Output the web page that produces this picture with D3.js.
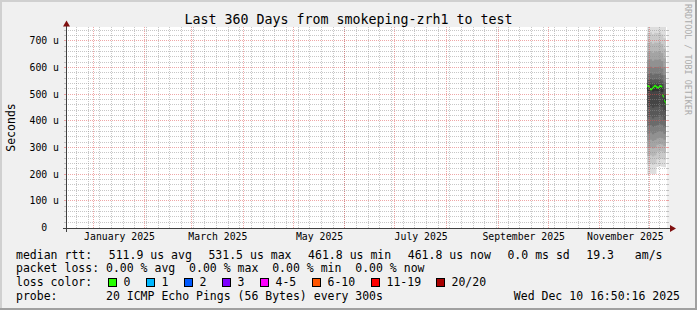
<!DOCTYPE html>
<html>
<head>
<meta charset="utf-8">
<style>
    body { margin: 0; background: #f0f0f0; }
    svg text { font-family: "DejaVu Sans Mono", monospace; white-space: pre; }
</style>
</head>
<body>
<svg id="chart" width="697" height="310"></svg>
<script src="https://cdn.jsdelivr.net/npm/d3@7"></script>
<script>
// median rtt (microseconds), one value per 12h
const medianTimes = [
    "2025-11-29T12:00", "2025-11-30T00:00", "2025-11-30T12:00", "2025-12-01T00:00",
    "2025-12-01T12:00", "2025-12-02T00:00", "2025-12-02T12:00", "2025-12-03T00:00",
    "2025-12-03T12:00", "2025-12-04T00:00", "2025-12-04T12:00", "2025-12-05T00:00",
    "2025-12-05T12:00", "2025-12-06T00:00", "2025-12-06T12:00", "2025-12-07T00:00",
    "2025-12-07T12:00", "2025-12-08T00:00", "2025-12-08T12:00", "2025-12-09T00:00",
    "2025-12-09T12:00", "2025-12-10T00:00", "2025-12-10T12:00"
]
const medianValues = [
    530.2, 531.0, 527.5, 519.3, 517.8, 519.6, 524.4, 526.1, 530.0, 531.5, 529.2, 527.0,
    524.1, 525.3, 528.8, 530.9, 530.1, 527.6, 496.4, 490.8, 476.2, 470.5, 461.8
]

// smoke: 20 sorted ping times (microseconds) per interval
const smokeTimes = [
    "2025-11-29T12:00", "2025-11-30T21:00", "2025-12-02T06:00", "2025-12-03T15:00",
    "2025-12-05T00:00", "2025-12-06T09:00", "2025-12-07T18:00", "2025-12-09T03:00"
]
const smokePings = [
    [198, 236, 268, 298, 326, 352, 380, 412, 452, 512, 532, 542, 555, 575, 600, 628, 658, 692, 728, 810],
    [202, 240, 271, 301, 329, 356, 384, 416, 456, 515, 534, 544, 557, 578, 603, 631, 661, 696, 732, 818],
    [199, 235, 266, 296, 324, 350, 377, 409, 449, 510, 530, 540, 553, 573, 598, 625, 655, 689, 725, 806],
    [201, 238, 270, 300, 328, 354, 382, 414, 454, 513, 533, 543, 556, 577, 602, 630, 660, 694, 730, 814],
    [227, 256, 284, 310, 334, 358, 384, 415, 454, 512, 532, 542, 555, 576, 601, 629, 659, 693, 729, 812],
    [230, 259, 287, 313, 337, 361, 387, 418, 457, 515, 534, 544, 557, 578, 603, 631, 661, 696, 732, 818],
    [228, 257, 285, 311, 335, 359, 385, 416, 452, 508, 528, 538, 551, 571, 596, 624, 654, 688, 724, 806],
    [226, 254, 281, 306, 329, 352, 376, 404, 436, 468, 484, 500, 520, 545, 572, 602, 634, 670, 710, 798]
]

const yTicks = [0, 100, 200, 300, 400, 500, 600, 700]
const monthLabels = ["January 2025", "March 2025", "May 2025", "July 2025", "September 2025", "November 2025"]
const monthLabelDates = ["2025-01-16T12:00", "2025-03-16T12:00", "2025-05-16T12:00",
                         "2025-07-16T12:00", "2025-09-16T00:00", "2025-11-16T00:00"]

const rttStatNames = ["avg", "max", "min", "now"]
const rttStats = [511.9, 531.5, 461.8, 461.8]
const rttSd = 0.0
const rttAmps = 19.3
const lossStatNames = ["avg", "max", "min", "now"]
const lossStats = [0.00, 0.00, 0.00, 0.00]
const lossLabels = ["0", "1", "2", "3", "4-5", "6-10", "11-19", "20/20"]
const lossColors = ["#26ff00", "#00b8ff", "#0059ff", "#7e00ff", "#ff00ff", "#ff5500", "#ff0000", "#a80000"]

const endTime = new Date("2025-12-10T16:50:16")
const startTime = new Date(endTime.getTime() - 360 * 864e5)

let svg = d3.select("#chart")

// background + 3d border
svg.append("rect").attr("width", 697).attr("height", 310).attr("fill", "#f0f0f0")
svg.append("path").attr("d", "M0,0H697V2H2V310H0Z").attr("fill", "#d0d0d0")
svg.append("path").attr("d", "M697,0V310H0V308H695V0Z").attr("fill", "#a0a0a0")

let x = d3.scaleTime().domain([startTime, endTime]).range([66, 666])
let y = d3.scaleLinear().domain([0, 750]).range([227.5, 27.5])

// canvas
svg.append("rect").attr("x", 67).attr("y", 27).attr("width", 600).attr("height", 201).attr("fill", "#ffffff")

svg.append("clipPath").attr("id", "plotclip")
    .append("rect").attr("x", 67).attr("y", 27).attr("width", 600).attr("height", 201)

let body = svg.append("g").attr("clip-path", "url(#plotclip)")

// smoke bands, outer (light) to inner (dark)
let smoke = smokeTimes.map((t, i) => ({ t: new Date(t), p: smokePings[i] }))
smoke.push({ t: endTime, p: smokePings[smokePings.length - 1] })
for (let k = 0; k < 10; k++) {
    let g = 19 * (9 - k) + 50
    let band = d3.area()
        .x(d => x(d.t))
        .y0(d => y(d.p[k]))
        .y1(d => y(d.p[19 - k]))
        .curve(d3.curveStepAfter)
    body.append("path").datum(smoke).attr("d", band).attr("fill", d3.rgb(g, g, g))
}

// median band (+-1px) in loss colour
let med = medianTimes.map((t, i) => ({ t: new Date(t), v: medianValues[i] }))
med.push({ t: endTime, v: medianValues[medianValues.length - 1] })
let medArea = d3.area()
    .x(d => x(d.t))
    .y0(d => y(d.v) + 1)
    .y1(d => y(d.v) - 1)
    .curve(d3.curveStepAfter)
body.append("path").datum(med).attr("d", medArea).attr("fill", lossColors[0])

// grid (rrdtool paints it over the graph)
const minorCol = "rgba(144,144,144,0.5)"
const majorCol = "rgba(224,80,80,0.5)"
let grid = svg.append("g")
let rowOf = v => Math.round(y(v) - 0.5) + 0.5
let colOf = t => Math.floor(x(t)) + 0.5

function hline(yy, col) {
    grid.append("line").attr("stroke-dasharray", "1,1").attr("x1", 66).attr("x2", 668)
        .attr("y1", yy).attr("y2", yy).attr("stroke", col)
    grid.append("line").attr("shape-rendering", "crispEdges").attr("x1", 64).attr("x2", 66)
        .attr("y1", yy).attr("y2", yy).attr("stroke", col)
    grid.append("line").attr("shape-rendering", "crispEdges").attr("x1", 667).attr("x2", 669)
        .attr("y1", yy).attr("y2", yy).attr("stroke", col)
}
function vline(xx, col) {
    grid.append("line").attr("stroke-dasharray", "1,1").attr("x1", xx).attr("x2", xx)
        .attr("y1", 27).attr("y2", 228).attr("stroke", col)
}

d3.range(20, 751, 20).filter(v => v % 100 != 0).forEach(v => hline(rowOf(v), minorCol))
d3.timeSunday.range(startTime, endTime).forEach(t => vline(colOf(t), minorCol))
yTicks.filter(v => v > 0).forEach(v => hline(rowOf(v), majorCol))
d3.timeMonth.range(startTime, endTime).forEach(t => vline(colOf(t), majorCol))

// axes lines + arrows
svg.append("line").attr("x1", 63).attr("x2", 671).attr("y1", 228.5).attr("y2", 228.5)
    .attr("stroke", "#404040").attr("shape-rendering", "crispEdges")
svg.append("line").attr("x1", 66.5).attr("x2", 66.5).attr("y1", 232).attr("y2", 24)
    .attr("stroke", "#404040").attr("shape-rendering", "crispEdges")
svg.append("path").attr("d", "M670,225L676,228.5L670,232Z").attr("fill", "#801010")
svg.append("path").attr("d", "M66.5,20.5L70,26.5L63,26.5Z").attr("fill", "#801010")

// tick labels
svg.append("g")
    .attr("transform", "translate(66.5,0)")
    .call(d3.axisLeft(y).tickValues(yTicks).tickSize(0).tickPadding(7.5)
        .tickFormat(d => d === 0 ? "0\u00a0\u00a0" : d + " u"))
    .call(g => g.select(".domain").remove())
    .attr("font-family", "DejaVu Sans Mono").attr("font-size", "9.8px")
    .selectAll("text").attr("fill", "#000")

svg.append("g")
    .attr("transform", "translate(0,228.5)")
    .call(d3.axisBottom(x).tickValues(monthLabelDates.map(d => new Date(d))).tickSize(0).tickPadding(4.5)
        .tickFormat((d, i) => monthLabels[i]))
    .call(g => g.select(".domain").remove())
    .attr("font-family", "DejaVu Sans Mono").attr("font-size", "9.8px")
    .selectAll("text").attr("fill", "#000")

// title, y label, watermark
svg.append("text").attr("x", 348.5).attr("y", 24).attr("text-anchor", "middle")
    .attr("font-size", "13.3px").attr("fill", "#000")
    .text("Last 360 Days from smokeping-zrh1 to test")
svg.append("text").attr("transform", "translate(15,127.5) rotate(-90)").attr("text-anchor", "middle")
    .attr("font-size", "11.5px").attr("fill", "#000").text("Seconds")
svg.append("text").attr("transform", "translate(684.5,4) rotate(90)")
    .attr("font-size", "8.4px").attr("fill", "#ababab").text("RRDTOOL / TOBI OETIKER")

// legend
let legend = svg.append("g").attr("font-size", "11.5px").attr("fill", "#000")
const rows = [258.5, 272, 285.7, 299.5]

// first row is justified across the width, like rrdtool's \j
let rttItems = ["median rtt:"]
    .concat(rttStats.map((v, i) => v.toFixed(1) + " us " + rttStatNames[i]))
    .concat([rttSd.toFixed(1) + " ms sd", rttAmps.toFixed(1) + "   am/s"])
let rttNodes = rttItems.map(s => legend.append("text").attr("y", rows[0]).text(s))
let widths = rttNodes.map(n => n.node().getComputedTextLength())
let gap = (662.5 - 16 - d3.sum(widths)) / (rttItems.length - 1)
let cx = 16
rttNodes.forEach((n, i) => { n.attr("x", cx); cx += widths[i] + gap })

legend.append("text").attr("x", 16).attr("y", rows[1])
    .text("packet loss: " + lossStats.map((v, i) => v.toFixed(2) + " % " + lossStatNames[i]).join("  "))

legend.append("text").attr("x", 16).attr("y", rows[2]).text("loss color:")
let sx = 108.5
lossLabels.forEach((lab, i) => {
    legend.append("rect").attr("x", sx).attr("y", 278.5).attr("width", 8).attr("height", 8)
        .attr("fill", lossColors[i]).attr("stroke", "#000").attr("stroke-width", 1)
    let t = legend.append("text").attr("x", sx + 15).attr("y", rows[2]).text(lab)
    sx = sx + 15 + t.node().getComputedTextLength() + 15.3
    sx = Math.round(sx) + 0.5
})

legend.append("text").attr("x", 16).attr("y", rows[3]).text("probe:       20 ICMP Echo Pings (56 Bytes) every 300s")
legend.append("text").attr("x", 680).attr("y", rows[3]).attr("text-anchor", "end").text("Wed Dec 10 16:50:16 2025")
</script>
</body>
</html>
